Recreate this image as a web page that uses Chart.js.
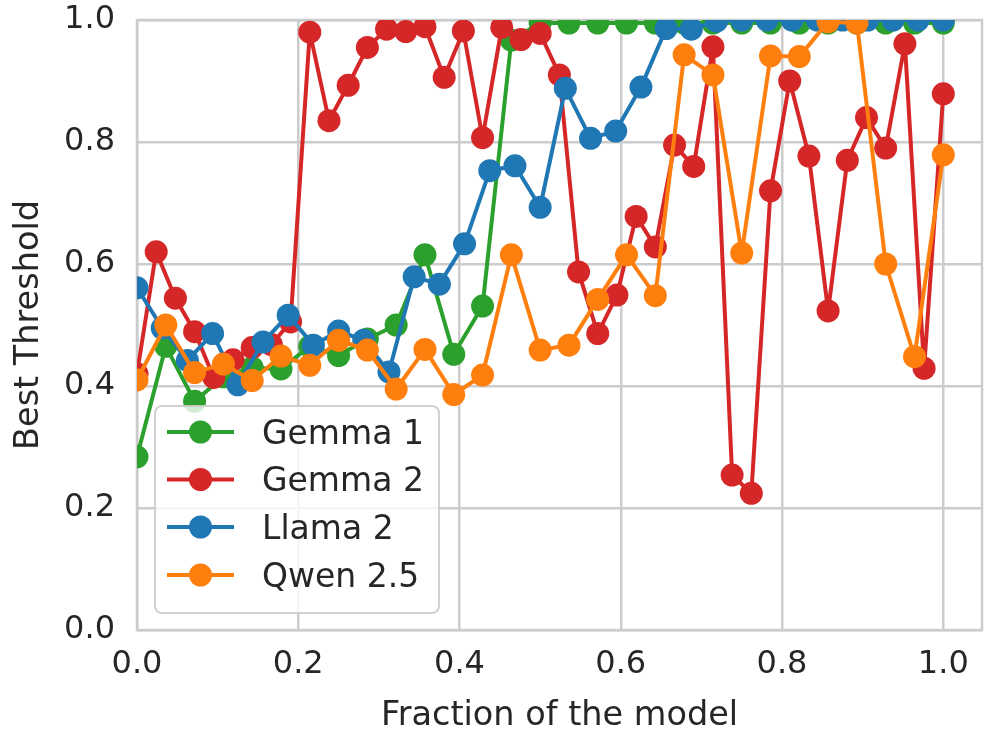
<!DOCTYPE html>
<html>
<head>
<meta charset="utf-8">
<title>Best Threshold</title>
<script src="https://cdn.jsdelivr.net/npm/chart.js@4.4.1/dist/chart.umd.min.js"></script>
<style>
  html, body { margin: 0; padding: 0; background: #ffffff; }
  #wrap { width: 984px; height: 732px; }
</style>
</head>
<body>
<div id="wrap"><canvas id="thresholdChart" width="984" height="732"></canvas></div>
<script>
// Best threshold per layer, one value per layer from first to last
const gemma1 = [0.284, 0.465, 0.375, 0.415, 0.43, 0.428, 0.465, 0.45, 0.477, 0.50,
  0.615, 0.452, 0.531, 0.967, 0.995, 0.995, 0.995, 0.995, 0.995, 0.995,
  0.995, 0.995, 0.995, 0.995, 0.995, 0.995, 0.995, 0.995, 0.995];
const gemma2 = [0.42, 0.62, 0.544, 0.489, 0.414, 0.443, 0.463, 0.468, 0.505, 0.98,
  0.835, 0.893, 0.955, 0.985, 0.981, 0.989, 0.906, 0.982, 0.807, 0.988,
  0.968, 0.978, 0.91, 0.587, 0.486, 0.549, 0.678, 0.628, 0.795, 0.76,
  0.956, 0.254, 0.224, 0.72, 0.90, 0.777, 0.523, 0.77, 0.84, 0.79,
  0.961, 0.429, 0.879];
const llama2 = [0.561, 0.495, 0.442, 0.486, 0.402, 0.472, 0.516, 0.467, 0.49, 0.475,
  0.423, 0.579, 0.567, 0.633, 0.753, 0.761, 0.693, 0.888, 0.806, 0.818,
  0.89, 0.986, 0.985, 0.998, 1.0, 1.0, 1.0, 1.0, 1.0, 1.0,
  1.0, 1.0, 1.0];
const qwen25 = [0.41, 0.50, 0.422, 0.436, 0.409, 0.449, 0.434, 0.475, 0.459, 0.395,
  0.46, 0.386, 0.418, 0.615, 0.459, 0.467, 0.542, 0.615, 0.548, 0.943,
  0.91, 0.618, 0.941, 0.94, 0.997, 0.995, 0.60, 0.448, 0.779];

const seriesNames = ["Gemma 1", "Gemma 2", "Llama 2", "Qwen 2.5"];
const seriesColors = ["#2ca02c", "#d62728", "#1f77b4", "#ff7f0e"];
const xTicks = [0, 0.2, 0.4, 0.6, 0.8, 1.0];
const yTicks = [0, 0.2, 0.4, 0.6, 0.8, 1.0];

const textColor = "#262626";
const gridColor = "#cccccc";
const fontFamily = "'DejaVu Sans', sans-serif";
const tickSize = 32;
const legendSize = 33;
const labelSize = 33.5;

// layer index -> position as a fraction of the model depth
function toPoints(values) {
  const last = values.length - 1;
  return values.map((v, i) => ({ x: i / last, y: v }));
}

const allSeries = [gemma1, gemma2, llama2, qwen25];

const datasets = allSeries.map((values, k) => ({
  label: seriesNames[k],
  data: toPoints(values),
  borderColor: seriesColors[k],
  backgroundColor: seriesColors[k],
  pointBackgroundColor: seriesColors[k],
  pointBorderWidth: 0,
  pointRadius: 11.5,
  pointHoverRadius: 11.5,
  borderWidth: 4,
  borderJoinStyle: "round",
  borderCapStyle: "round",
  tension: 0,
  clip: 0,
  // later series sit on top
  order: allSeries.length - k
}));

// grey frame around the plot area
const framePlugin = {
  id: "frame",
  beforeDatasetsDraw(chart) {
    const { ctx, chartArea } = chart;
    ctx.save();
    ctx.strokeStyle = gridColor;
    ctx.lineWidth = 2.5;
    ctx.strokeRect(chartArea.left, chartArea.top,
      chartArea.right - chartArea.left, chartArea.bottom - chartArea.top);
    ctx.restore();
  }
};

// legend box in the lower left of the plot
const legendPlugin = {
  id: "boxLegend",
  afterDatasetsDraw(chart) {
    const ctx = chart.ctx;
    const box = { x: 155, y: 406, w: 284, h: 207, r: 7 };
    ctx.save();
    ctx.beginPath();
    ctx.roundRect(box.x, box.y, box.w, box.h, box.r);
    ctx.fillStyle = "rgba(255,255,255,0.8)";
    ctx.fill();
    ctx.strokeStyle = "rgba(204,204,204,0.9)";
    ctx.lineWidth = 2;
    ctx.stroke();

    const rowY = [432, 479.5, 527, 575];
    chart.data.datasets.forEach((ds, i) => {
      const y = rowY[i];
      ctx.strokeStyle = ds.borderColor;
      ctx.lineWidth = 4;
      ctx.lineCap = "butt";
      ctx.beginPath();
      ctx.moveTo(167, y);
      ctx.lineTo(234, y);
      ctx.stroke();
      ctx.fillStyle = ds.borderColor;
      ctx.beginPath();
      ctx.arc(200.5, y, 11.5, 0, Math.PI * 2);
      ctx.fill();
      ctx.fillStyle = textColor;
      ctx.font = legendSize + "px " + fontFamily;
      ctx.textBaseline = "middle";
      ctx.textAlign = "left";
      ctx.fillText(ds.label, 262, y + 3);
    });
    ctx.restore();
  }
};

const canvas = document.getElementById("thresholdChart");

new Chart(canvas, {
  type: "line",
  data: { datasets: datasets },
  options: {
    responsive: false,
    animation: false,
    events: [],
    layout: { autoPadding: false, padding: { top: 20, right: 2, left: 0, bottom: 0 } },
    plugins: {
      legend: { display: false },
      tooltip: { enabled: false }
    },
    scales: {
      x: {
        type: "linear",
        min: 0,
        max: 1.048,
        afterBuildTicks: (scale) => { scale.ticks = xTicks.map(v => ({ value: v })); },
        afterFit: (scale) => {
          scale.height = 102;
          scale.paddingLeft = 0;
          scale.paddingRight = 0;
        },
        ticks: {
          callback: (v) => Number(v).toFixed(1),
          color: textColor,
          font: { family: fontFamily, size: tickSize },
          padding: 15,
          maxRotation: 0
        },
        grid: { color: gridColor, lineWidth: 2.5, drawTicks: false },
        border: { display: false },
        title: {
          display: true,
          text: "Fraction of the model",
          color: textColor,
          font: { family: fontFamily, size: labelSize, lineHeight: 0.9 },
          padding: { top: 0, bottom: 1 }
        }
      },
      y: {
        type: "linear",
        min: 0,
        max: 1.0,
        afterBuildTicks: (scale) => { scale.ticks = yTicks.map(v => ({ value: v })); },
        afterFit: (scale) => {
          scale.width = 137;
          scale.paddingTop = 0;
          scale.paddingBottom = 0;
        },
        ticks: {
          callback: (v) => Number(v).toFixed(1),
          color: textColor,
          font: { family: fontFamily, size: tickSize },
          padding: 22
        },
        grid: { color: gridColor, lineWidth: 2.5, drawTicks: false },
        border: { display: false },
        title: {
          display: true,
          text: "Best Threshold",
          color: textColor,
          font: { family: fontFamily, size: labelSize, lineHeight: 1.2 },
          padding: { top: 9, bottom: 0 }
        }
      }
    }
  },
  plugins: [framePlugin, legendPlugin]
});
</script>
</body>
</html>
